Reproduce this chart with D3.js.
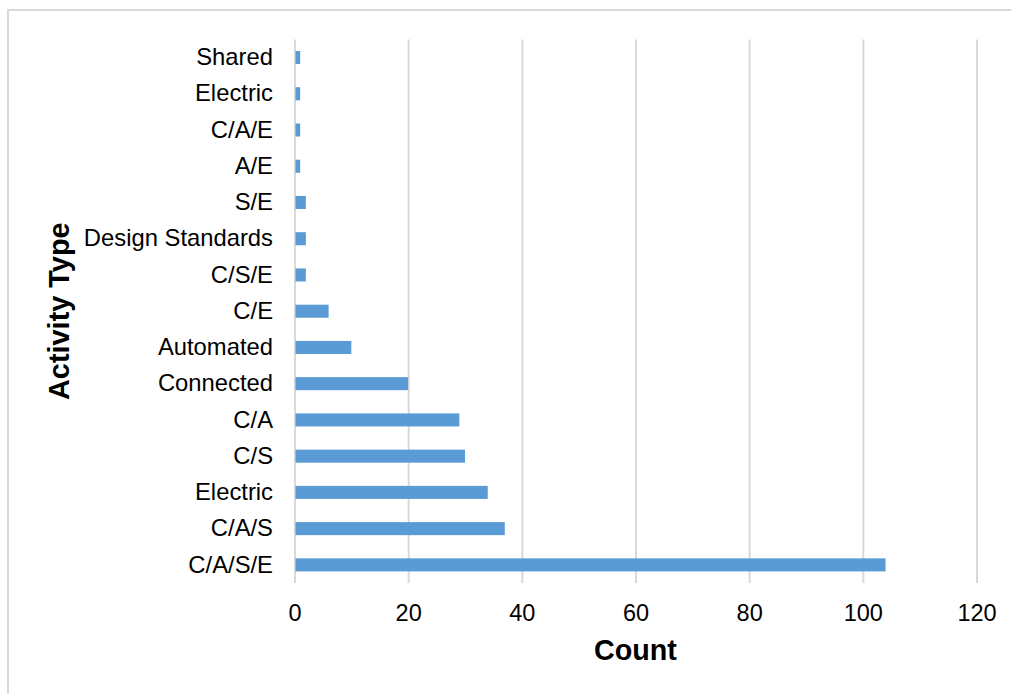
<!DOCTYPE html>
<html>
<head>
<meta charset="utf-8">
<script src="https://cdn.jsdelivr.net/npm/d3@7"></script>
<style>
  html, body { margin: 0; padding: 0; background: #fff; }
  svg { display: block; font-family: "Liberation Sans", Arial, sans-serif; }
</style>
</head>
<body>
<div id="chart"></div>
<script>
// top to bottom, as drawn
const categories = ["Shared", "Electric", "C/A/E", "A/E", "S/E", "Design Standards", "C/S/E", "C/E",
  "Automated", "Connected", "C/A", "C/S", "Electric", "C/A/S", "C/A/S/E"];
const counts = [1, 1, 1, 1, 2, 2, 2, 6, 10, 20, 29, 30, 34, 37, 104];
const xTicks = [0, 20, 40, 60, 80, 100, 120];

const width = 1011, height = 694;
const margin = { top: 39.4, right: 34.5, bottom: 111, left: 294.5 };
const innerWidth = width - margin.left - margin.right;
const innerHeight = height - margin.top - margin.bottom;

const rows = categories.map((label, i) => ({ key: i, label, value: counts[i] }));

const svg = d3.select("#chart").append("svg").attr("width", width).attr("height", height);

// chart frame: only its top and left edges fall inside the picture
svg.append("path").attr("d", `M8,${height}V10H${width}`)
  .attr("fill", "none").attr("stroke", "#d9d9d9").attr("stroke-width", 2);

const x = d3.scaleLinear().domain([0, 120]).range([margin.left, margin.left + innerWidth]);
const y = d3.scaleBand().domain(rows.map(d => d.key)).range([margin.top, margin.top + innerHeight]).paddingInner(0.64).paddingOuter(0.32);

// vertical gridlines
svg.append("g")
  .attr("transform", `translate(0,${margin.top + innerHeight})`)
  .call(d3.axisBottom(x).tickValues(xTicks).tickSize(-innerHeight).tickFormat(() => ""))
  .call(g => g.select(".domain").remove())
  .call(g => g.selectAll("text").remove())
  .call(g => g.selectAll("line").attr("stroke", "#d9d9d9").attr("stroke-width", 2));

// bars
svg.append("g").selectAll("rect").data(rows).join("rect")
  .attr("x", x(0) + 1)
  .attr("y", d => y(d.key))
  .attr("width", d => x(d.value) - x(0) - 1)
  .attr("height", y.bandwidth())
  .attr("fill", "#5b9bd5");

// x tick labels
svg.append("g")
  .attr("transform", `translate(0,${margin.top + innerHeight})`)
  .call(d3.axisBottom(x).tickValues(xTicks).tickSize(0).tickPadding(21))
  .call(g => g.select(".domain").remove())
  .call(g => g.selectAll("text").attr("font-size", 23.5).attr("fill", "#000").attr("font-family", "'Liberation Sans', Arial, sans-serif"));

// y tick labels
svg.append("g")
  .attr("transform", `translate(${margin.left},0)`)
  .call(d3.axisLeft(y).tickSize(0).tickPadding(21.5).tickFormat(k => categories[k]))
  .call(g => g.select(".domain").remove())
  .call(g => g.selectAll("text").attr("font-size", 23.8).attr("fill", "#000").attr("font-family", "'Liberation Sans', Arial, sans-serif"));

// axis titles
svg.append("text")
  .attr("x", margin.left + innerWidth / 2)
  .attr("y", 660)
  .attr("text-anchor", "middle")
  .attr("font-size", 28.7)
  .attr("font-weight", "bold")
  .text("Count");

const ty = margin.top + innerHeight / 2;
svg.append("text")
  .attr("transform", `translate(69,${ty}) rotate(-90)`)
  .attr("text-anchor", "middle")
  .attr("font-size", 28.9)
  .attr("font-weight", "bold")
  .text("Activity Type");
</script>
</body>
</html>
